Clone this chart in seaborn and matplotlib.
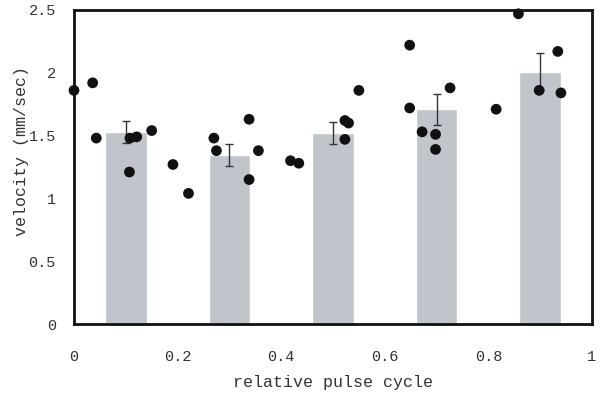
import numpy as np
import pandas as pd
import seaborn as sns
from matplotlib import pyplot as plt

# bar means and error
bar_x = [0.1, 0.3, 0.5, 0.7, 0.9]
bar_mean = [1.53, 1.345, 1.52, 1.71, 2.01]
bar_err = [0.09, 0.085, 0.09, 0.125, 0.145]

# individual measurements
pt_x = [0.0, 0.036, 0.043, 0.107, 0.108, 0.121, 0.150, 0.191, 0.221,
        0.270, 0.275, 0.338, 0.338, 0.356, 0.418, 0.434,
        0.523, 0.530, 0.523, 0.550,
        0.648, 0.648, 0.672, 0.698, 0.698, 0.726,
        0.815, 0.858, 0.898, 0.934, 0.940]
pt_y = [1.86, 1.92, 1.48, 1.21, 1.48, 1.49, 1.54, 1.27, 1.04,
        1.48, 1.38, 1.63, 1.15, 1.38, 1.30, 1.28,
        1.62, 1.60, 1.47, 1.86,
        2.22, 1.72, 1.53, 1.51, 1.39, 1.88,
        1.71, 2.47, 1.86, 2.17, 1.84]

x_ticks = [0, 0.2, 0.4, 0.6, 0.8, 1]
x_ticklabels = ["0", "0.2", "0.4", "0.6", "0.8", "1"]
y_ticks = [0, 0.5, 1, 1.5, 2, 2.5]
y_ticklabels = ["0", "0.5", "1", "1.5", "2", "2.5"]

sns.set_style("white")
plt.rcParams["font.family"] = ["Liberation Mono", "DejaVu Sans Mono"]

bars = pd.DataFrame({"x": bar_x, "v": bar_mean})
pts = pd.DataFrame({"x": pt_x, "v": pt_y})

fig = plt.figure(figsize=(6.02, 4.0), dpi=100)
ax = fig.add_axes([74 / 602, 76 / 400, 518 / 602, 314 / 400])

sns.barplot(data=bars, x="x", y="v", native_scale=True, width=0.4,
            color="#c0c5cc", saturation=1, errorbar=None, ax=ax, zorder=1)
ax.errorbar(bar_x, bar_mean, yerr=bar_err, fmt="none", ecolor="#333333",
            elinewidth=1, capsize=3, capthick=1, zorder=2)
sns.scatterplot(data=pts, x="x", y="v", color="#111111", s=60,
                edgecolor="none", ax=ax, zorder=3, clip_on=False)

ax.set_xlim(0, 1)
ax.set_ylim(0, 2.5)
ax.set_xticks(x_ticks)
ax.set_xticklabels(x_ticklabels)
ax.set_yticks(y_ticks)
ax.set_yticklabels(y_ticklabels)
ax.tick_params(axis="both", direction="out", length=5, width=2,
               color="#111111", labelsize=11, labelcolor="#333333")
ax.tick_params(axis="x", pad=14)
ax.tick_params(axis="y", pad=8)
for s in ax.spines.values():
    s.set_linewidth(2)
    s.set_color("#111111")

ax.set_xlabel("relative pulse cycle", fontsize=12, color="#333333",
              labelpad=8)
ax.set_ylabel("velocity (mm/sec)", fontsize=12, color="#333333")
ax.yaxis.set_label_coords(-0.087, 0.55)

fig.savefig("out.png", dpi=100)
